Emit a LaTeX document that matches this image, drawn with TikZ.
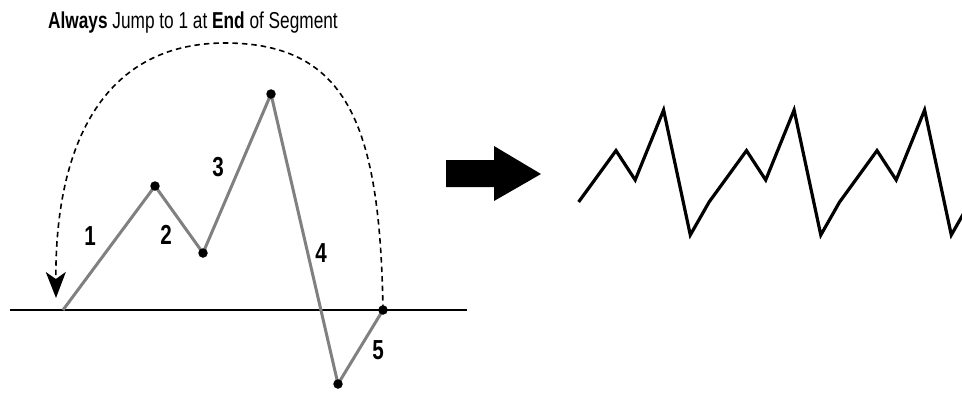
\documentclass[tikz,border=0pt]{standalone}
\usepackage{fontspec}
\setmainfont[FakeStretch=0.75]{Liberation Sans}
\usetikzlibrary{arrows.meta}
\tikzset{
  seg/.style={draw=black!50, line width=3pt},
  dot/.style={circle, fill=black, inner sep=0pt, minimum size=9.5pt},
  lbl/.style={font=\fontsize{27.5}{27.5}\selectfont\bfseries, inner sep=0pt},
  jump/.style={dashed, dash pattern=on 5.5pt off 4pt, line width=1.6pt, -{Stealth[length=26pt,width=20pt,inset=7pt]}},
  zig/.style={line width=3.2pt, line join=miter, miter limit=20},
}
\begin{document}
\begin{tikzpicture}[x=1pt,y=-1pt]
\useasboundingbox (0,0) rectangle (962,392);
% title
\node[anchor=base west, inner sep=0pt, font=\fontsize{23}{23}\selectfont] (title) at (48,28)
  {\textbf{Always} Jump to 1 at \textbf{End} of Segment};
% baseline
\coordinate (bl) at (10,310);
\coordinate (br) at (467,310);
\draw[line width=1.7pt] (bl) -- (br);
% points
\coordinate (p0) at (63,310);
\coordinate (p1) at (155,186);
\coordinate (p2) at (203,253);
\coordinate (p3) at (271,94);
\coordinate (p4) at (338,384);
\coordinate (p5) at (383,310);
\draw[seg] (p0) -- (p1) -- (p2) -- (p3) -- (p4) -- (p5);
\foreach \p in {p1,p2,p3,p4,p5} \node[dot] at (\p) {};
% labels
\node[lbl] (l1) at (90,236) {1};
\node[lbl] (l2) at (166,235) {2};
\node[lbl] (l3) at (218,167) {3};
\node[lbl] (l4) at (321,253) {4};
\node[lbl] (l5) at (378,350) {5};
% jump arc
\coordinate (top) at (225,43);
\coordinate (tip) at (56,298);
\draw[jump] (p5) .. controls (380,130) and (350,43) .. (top)
  .. controls (100,43) and (55,150) .. (tip);
% block arrow
\fill (446,160) -- (494,160) -- (494,146) -- (541,174) -- (494,201) -- (494,187) -- (446,187) -- cycle;
% zigzag
\begin{scope}
\clip (560,90) rectangle (962,260);
\foreach \s [count=\i] in {578.6,709.1,839.6} {
  \coordinate (z\i a) at (\s,202);
  \coordinate (z\i b) at (\s+37.4,150.6);
  \coordinate (z\i c) at (\s+56.6,180);
  \coordinate (z\i d) at (\s+85,110);
  \coordinate (z\i e) at (\s+111.7,235);
}
\coordinate (z4a) at (970.1,202);
\draw[zig] (z1a) -- (z1b) -- (z1c) -- (z1d) -- (z1e) -- (z2a) -- (z2b) -- (z2c) -- (z2d) -- (z2e)
  -- (z3a) -- (z3b) -- (z3c) -- (z3d) -- (z3e) -- (z4a);
\end{scope}
\end{tikzpicture}
\end{document}
